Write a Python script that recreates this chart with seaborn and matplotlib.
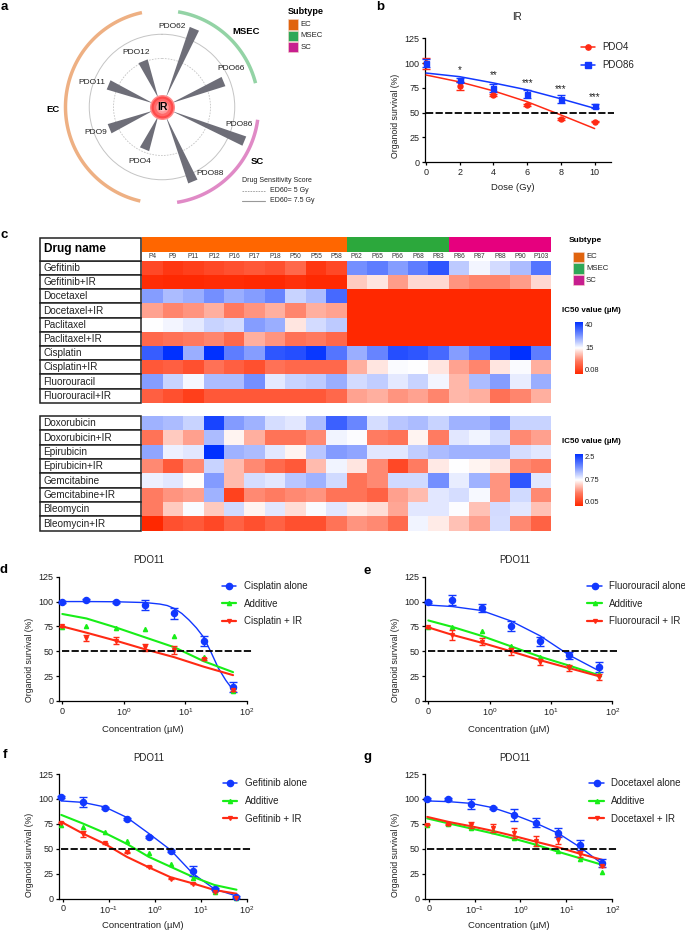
import numpy as np
import pandas as pd
import matplotlib
matplotlib.use("Agg")
import matplotlib.pyplot as plt
from matplotlib.colors import LinearSegmentedColormap, ListedColormap, TwoSlopeNorm
from matplotlib.lines import Line2D
from matplotlib.patches import Rectangle
import seaborn as sns

sns.set_theme(style="white")
plt.rcParams["font.family"] = ["Liberation Sans", "DejaVu Sans"]
plt.rcParams["mathtext.default"] = "regular"
plt.rcParams["mathtext.fontset"] = "custom"
plt.rcParams["mathtext.rm"] = "Liberation Sans"

W, H = 685, 932
fig = plt.figure(figsize=(W / 100, H / 100), dpi=100, facecolor="white")

BLUE, RED, GREEN = "#1238ff", "#ff2a14", "#18ee18"
INK = "#222222"

# ---------- panel a ----------
pdo_names = ["PDO62", "PDO66", "PDO86", "PDO88", "PDO4", "PDO9", "PDO11", "PDO12"]
pdo_angles = [22.5, 67.5, 112.5, 157.5, 202.5, 247.5, 292.5, 337.5]
pdo_ed60 = [8.74, 6.88, 9.2, 8.33, 4.74, 5.87, 5.98, 5.13]
subtype_names = ["EC", "MSEC", "SC"]
arc_spans = [(193, 348), (9.6, 75.7), (97.6, 171)]
arc_colors = ["#eeb083", "#93d3a5", "#e08ac6"]

# ---------- panel b ----------
dose = [0, 2, 4, 6, 8, 10]
pdo4_points = [100, 77.3, 67.5, 57.5, 44, 41]
pdo4_err = [5.5, 4, 1, 1, 1, 0.5]
pdo4_curve = [88, 81, 72, 61, 47.7, 34]
pdo86_points = [100, 83, 75, 69, 64, 57]
pdo86_err = [4, 2, 4, 4, 4, 2]
pdo86_curve = [90, 86.3, 80, 73, 64, 54.4]
star_labels = ["*", "**", "***", "***", "***"]
star_heights = [93, 87.5, 80, 74, 65.5]

# ---------- panel c ----------
patients = ["P4", "P9", "P11", "P12", "P16", "P17", "P18", "P50", "P55", "P58",
            "P62", "P65", "P66", "P68", "P83", "P86", "P87", "P88", "P90", "P103"]
patient_subtype = [0] * 10 + [1] * 5 + [2] * 5
top_drugs = ["Gefitinib", "Gefitinib+IR", "Docetaxel", "Docetaxel+IR", "Paclitaxel",
             "Paclitaxel+IR", "Cisplatin", "Cisplatin+IR", "Fluorouracil", "Fluorouracil+IR"]
low = [0.1] * 10
top_values = [
    [3, 1.5, 2.2, 3, 3.8, 4.5, 3.8, 6, 1.5, 3, 27.5, 30, 26, 30, 35, 21, 16, 19, 22.5, 31],
    [.5, .3, .3, .5, .5, .3, .3, 1, .2, .3, 12, 13.5, 9.5, 12.8, 12.8, 9, 8.2, 8.2, 9.5, 12.8],
    [26, 22.5, 24, 27.5, 24, 26, 29, 20, 22.5, 32.5] + low,
    [9.8, 8.2, 9, 10.5, 7.5, 9, 10.5, 8.2, 10.5, 9.8] + low,
    [15, 16, 17.5, 20, 19, 26, 24, 13.5, 19, 21] + low,
    [6, 6.8, 7.5, 8.2, 6, 10.5, 9, 6.8, 7.5, 6] + low,
    [34, 40, 24, 40, 30, 26, 35, 36, 39, 31, 24, 29, 36, 35, 32.5, 26, 30, 36, 40, 30],
    [4.5, 5.2, 3.8, 6.8, 5.2, 3.8, 6.8, 6, 6, 6, 10.5, 13.5, 15.5, 15, 13.5, 9.8, 8.2, 13.5, 15.5, 10.5],
    [26, 20, 15.8, 22.5, 22.5, 27.5, 17.5, 20, 21, 24, 19, 20.5, 17.5, 20, 16, 11, 22.5, 26, 17, 24],
    [5.2, 3.8, 2.2, 4.5, 4.5, 4.5, 4.5, 4.5, 4.5, 6, 9.8, 10.5, 9, 9.8, 8.2, 11, 10.5, 6.8, 8.2, 10.5],
]
low_drugs = ["Doxorubicin", "Doxorubicin+IR", "Epirubicin", "Epirubicin+IR", "Gemcitabine",
             "Gemcitabine+IR", "Bleomycin", "Bleomycin+IR"]
low_values = [
    [1.36, 1.28, 1.1, 2.32, 1.54, 1.36, 1.01, .93, 1.28, 2.06, 1.71, 1.01, 1.19, 1.28, 1.1, 1.36, 1.36, 1.54, 1.1, 1.1],
    [.37, .61, .5, 1.28, .72, .54, .37, .37, .44, .84, .77, .4, .37, .72, .4, .93, .84, 1.01, .44, .5],
    [1.45, .87, .93, 2.5, 1.36, 1.28, .93, .72, 1.19, 1.54, 1.45, .93, .93, 1.14, 1.28, 1.36, 1.36, 1.36, 1.01, .93],
    [.44, .26, .44, 1.1, .57, .44, .33, .26, .57, .84, .68, .44, .19, .4, .69, .75, .72, .68, .44, .4],
    [.87, .93, .74, 1.54, .57, 1.01, .93, 1.19, 1.36, 1.05, .37, .44, 1.05, 1.05, 1.63, .89, 1.36, .47, 2.15, .93],
    [.4, .47, .5, 1.36, .16, .44, .4, .44, .47, .37, .37, .3, .5, .57, .93, 1.01, .8, .47, 1.05, .44],
    [.4, .61, .78, .61, 1.05, .72, .93, .66, .78, .93, .7, .66, .52, .93, .93, .77, .59, 1.03, .93, .59],
    [.05, .22, .26, .19, .3, .22, .3, .22, .22, .37, .47, .44, .33, .84, .7, .59, .5, 1.01, .44, .3],
]

# ---------- panels d-g ----------
conc7 = [0.1, 0.247, 0.74, 2.22, 6.67, 20, 60]
conc9 = [0.0093, 0.027, 0.082, 0.247, 0.74, 2.22, 6.67, 20, 60]

d_alone = [100, 101.9, 99.5, 97, 88, 60.6, 14.4]
d_alone_err = [1, 1, 1, 5, 6, 5, 5]
d_alone_conc = [0.1, 0.247, 0.74, 2.22, 3.85, 5.1, 6.67, 8.8, 11.5, 15.2, 20, 26.3, 34.6, 45.5, 60]
d_alone_curve = [100, 100, 99.8, 99, 97.5, 96, 93, 88, 81.5, 73.5, 64, 49, 33, 21, 11]
d_add = [74, 75.5, 73.7, 72, 65, 44.6, 10]
d_add_curve = [87.5, 83, 74, 64, 54, 40, 29]
d_ir = [75, 63.7, 60.7, 54, 51, 42, 11]
d_ir_err = [0.5, 3, 3.5, 3.5, 4, 1, 1]
d_ir_curve = [75, 68.7, 60.7, 52, 44, 34.5, 26]

e_alone = [100, 101.5, 94, 75.5, 60, 46, 34.5]
e_alone_err = [1, 5, 4, 5, 4.5, 3.5, 5]
e_alone_curve = [96.5, 95, 91, 80.5, 65.5, 46, 30.5]
e_add = [74, 74.7, 70, 55.6, 44, 35.5, 27]
e_add_curve = [81, 74.5, 65.5, 55, 44.5, 35.5, 26]
e_ir = [74, 66.5, 59.6, 50, 39.6, 33, 24.5]
e_ir_err = [0.5, 5, 3.5, 3.5, 3, 3, 3]
e_ir_curve = [74, 66.5, 58.6, 50, 41, 33, 25]

f_alone = [102, 97.3, 91, 79.5, 62.2, 47.8, 28, 10, 1.5]
f_alone_err = [1, 5, 1, 1, 1, 1, 5, 1, 1]
f_alone_curve = [98, 96.6, 92, 81.5, 65.5, 48.8, 25.4, 9.7, 2.7]
f_add = [74, 71.5, 67, 58, 45.5, 35, 20.4, 6.4, 1]
f_add_curve = [84, 75.5, 66, 55, 42, 32, 22, 13.7, 9]
f_ir = [76, 64.5, 55.5, 46.8, 32, 20, 15, 7, 1]
f_ir_err = [0.5, 3, 0.5, 0.5, 0.5, 0.5, 0.5, 0.5, 0.5]
f_ir_curve = [77, 65.5, 55, 42, 31.5, 21.5, 15.4, 8.7, 5]

g_alone = [100, 100.3, 94.6, 91, 84, 76, 66, 54, 36]
g_alone_err = [1, 1, 5, 1, 6, 4.5, 4.5, 5, 4]
g_alone_curve = [98, 97.3, 95.6, 91.3, 84, 75.5, 65.5, 51.5, 35]
g_add = [74, 74.5, 70.5, 68, 60.5, 55, 48, 40, 26.5]
g_add_curve = [80.5, 75.5, 70.5, 65.5, 60, 54, 47, 40.5, 34]
g_ir = [74, 74.5, 74, 70.5, 66, 58, 58.6, 44.5, 33]
g_ir_err = [0.5, 0.5, 3, 4, 5, 5, 4, 3, 1]
g_ir_curve = [82, 77, 72.7, 68, 62.7, 57, 51.5, 45, 39]


# ---------- helpers ----------
def box(x0, y0, x1, y1, **kw):
    return fig.add_axes([x0 / W, 1 - y1 / H, (x1 - x0) / W, (y1 - y0) / H], **kw)


def txt(x, y, s, size=6, ha="center", va="center", weight="normal", color=INK):
    return fig.text(x / W, 1 - y / H, s, fontsize=size, ha=ha, va=va, fontweight=weight, color=color)


def style_axes(ax, ymax=125):
    sns.despine(ax=ax)
    for s in ("left", "bottom"):
        ax.spines[s].set_linewidth(0.9)
        ax.spines[s].set_color("black")
    ax.set_ylim(0, ymax)
    ax.set_yticks([0, 25, 50, 75, 100, 125])
    ax.tick_params(axis="both", which="major", length=2.5, width=0.9, labelsize=6.5,
                   pad=1.5, colors=INK, color="black", left=True, bottom=True)
    ax.tick_params(axis="both", which="minor", length=0)
    ax.grid(False)
    ax.patch.set_alpha(0)


def axis_labels(ax, xlab, ylab, xc, yc_x, yc_y, xy):
    ax.set_xlabel(xlab, fontsize=6.8, color=INK, va="center")
    ax.set_ylabel(ylab, fontsize=6.3, color=INK, va="center")
    ax.xaxis.set_label_coords(xc / W, 1 - xy / H, transform=fig.transFigure)
    ax.yaxis.set_label_coords(yc_x / W, 1 - yc_y / H, transform=fig.transFigure)


def legend_at(ax, handles, x, y):
    ax.legend(handles=handles, loc="upper left", bbox_to_anchor=(x / W, 1 - y / H),
              bbox_transform=fig.transFigure, frameon=False, fontsize=7, borderpad=0,
              borderaxespad=0, labelspacing=0.78, handlelength=1.5, handletextpad=0.75,
              labelcolor=INK)


def series(ax, px, py, err, cx, cy, color, marker, ms, lw, capsize=2.7):
    sns.lineplot(x=cx, y=cy, ax=ax, color=color, lw=lw, errorbar=None, legend=False, zorder=3)
    if err is None:
        ax.plot(px, py, ls="none", marker=marker, ms=ms, color=color, mec=color, clip_on=False, zorder=4)
    else:
        ax.errorbar(px, py, yerr=err, fmt=marker, ms=ms, color=color, mec=color, ecolor=color,
                    elinewidth=1, capsize=capsize, capthick=1, clip_on=False, zorder=4)


def handles_for(a, b, c):
    return [Line2D([], [], color=BLUE, lw=1.1, marker="o", ms=4.5, label=a),
            Line2D([], [], color=GREEN, lw=1.6, marker="^", ms=3, label=b),
            Line2D([], [], color=RED, lw=1.6, marker="v", ms=2.8, label=c)]


# ---------- panel a drawing ----------
px_per_gy = 9.7
half = 100
cx0, cy0 = 162, 107
pol = box(cx0 - half, cy0 - half, cx0 + half, cy0 + half, projection="polar")
pol.set_theta_zero_location("N")
pol.set_theta_direction(-1)
pol.set_ylim(0, half / px_per_gy)
pol.set_xticks([])
pol.set_yticks([5, 7.5])
pol.set_yticklabels([])
pol.grid(True)
grid_lines = pol.yaxis.get_gridlines()
grid_lines[0].set(color="#c4c4c4", lw=0.6, ls=(0, (2, 1.5)))
grid_lines[1].set(color="#c4c4c4", lw=0.7, ls="-")
pol.spines["polar"].set_visible(False)
pol.patch.set_alpha(0)
for ang, val in zip(pdo_angles, pdo_ed60):
    half_width = 5.0 / (val * px_per_gy)
    t = np.radians(ang)
    pol.fill([t, t - half_width, t + half_width], [1.0, val, val], color="#6e6e78", lw=0, zorder=3)
for span, col in zip(arc_spans, arc_colors):
    th = np.radians(np.linspace(span[0], span[1], 120))
    pol.plot(th, np.full_like(th, 9.95), color=col, lw=2.5, solid_capstyle="butt", zorder=2)
for frac, col in zip([1.0, 0.88, 0.7, 0.5, 0.3],
                     ["#ff8a8a", "#ff4a4a", "#ff6a6a", "#ff9a9a", "#ffc4c4"]):
    pol.scatter([0], [0], s=324 * frac ** 2, color=col, lw=0, zorder=6 - frac)
txt(cx0, cy0, "IR", 7.5, weight="bold", color="black")

for name, (x, y) in zip(pdo_names, [(172.3, 26), (230.7, 69), (239.3, 124), (210.3, 173.3),
                                    (139.3, 161.3), (96, 132.7), (92, 82.3), (135.7, 52.3)]):
    txt(x, y, name, 6)
for name, (x, y) in zip(subtype_names, [(53, 109.3), (246.3, 31.7), (257, 161.3)]):
    txt(x, y, name, 6.8, weight="bold", color="black")

swatch_colors = ["#e0640f", "#2ea858", "#c71e8f"]


def subtype_legend(x_title, y_title, x_sw, y_sw, step, size, title_size):
    txt(x_title, y_title, "Subtype", title_size, ha="left", weight="bold", color="black")
    for i, (n, c) in enumerate(zip(subtype_names, swatch_colors)):
        fig.add_artist(Rectangle((x_sw / W, 1 - (y_sw + step * i + size) / H), size / W, size / H,
                                 transform=fig.transFigure, facecolor=c, edgecolor="#f4d6c8", lw=0.4))
        txt(x_sw + size + 2.2, y_sw + step * i + size / 2, n, 5.6, ha="left")


subtype_legend(288, 11.7, 288, 19.3, 11.4, 10.2, 6.6)
txt(242, 180.7, "Drug Sensitivity Score", 5, ha="left")
fig.add_artist(Line2D([242 / W, 265 / W], [1 - 191 / H] * 2, color="#999999", lw=0.6, ls=(0, (2, 1.2))))
fig.add_artist(Line2D([242 / W, 265 / W], [1 - 201 / H] * 2, color="#999999", lw=0.8))
txt(270, 191, "ED60= 5 Gy", 5, ha="left")
txt(270, 201, "ED60= 7.5 Gy", 5, ha="left")

# ---------- panel b drawing ----------
axb = box(425, 38.3, 611, 162.3)
style_axes(axb)
axb.set_xlim(-0.06, 10.97)
axb.set_xticks(dose)
series(axb, dose, pdo4_points, pdo4_err, dose, pdo4_curve, RED, "o", 3.6, 1.1)
series(axb, dose, pdo86_points, pdo86_err, dose, pdo86_curve, BLUE, "s", 3.6, 1.1)
axb.plot([0, 11.15], [50, 50], color="black", lw=1.3, dashes=(4, 1.3), clip_on=False, zorder=5)
for x, y, s in zip(dose[1:], star_heights, star_labels):
    axb.text(x, y, s, ha="center", va="center", fontsize=7, color=INK)
axis_labels(axb, "Dose (Gy)", "Organoid survival (%)", 512.7, 395, 116, 187)
axb.text(516.7 / W, 1 - 16.7 / H, "IR", transform=fig.transFigure, ha="center", va="center", fontsize=7, color=INK)
legend_at(axb, [Line2D([], [], color=RED, lw=1.1, marker="o", ms=3.8, label="PDO4"),
                Line2D([], [], color=BLUE, lw=1.1, marker="s", ms=3.8, label="PDO86")], 580.7, 42.5)

# ---------- panel c drawing ----------
cmap_heat = LinearSegmentedColormap.from_list(
    "ic50", [(0, "#ff2800"), (0.25, "#ff7a60"), (0.5, "#ffffff"), (0.75, "#7590ff"), (1, "#0030ff")])
norm_top = TwoSlopeNorm(vmin=0.08, vcenter=15, vmax=40)
norm_low = TwoSlopeNorm(vmin=0.05, vcenter=0.75, vmax=2.5)
xl, xr = 142.3, 551

bar = box(xl, 237.3, xr, 251.7)
sns.heatmap(pd.DataFrame([patient_subtype], columns=patients), ax=bar,
            cmap=ListedColormap(["#ff6600", "#2ca83c", "#e6007e"]), vmin=0, vmax=2,
            cbar=False, xticklabels=False, yticklabels=False)
bar.set_xlabel("")
bar.set_ylabel("")

hm1 = box(xl, 260.7, xr, 402.7)
sns.heatmap(pd.DataFrame(top_values, index=top_drugs, columns=patients), ax=hm1, cmap=cmap_heat,
            norm=norm_top, cbar=False, yticklabels=False, xticklabels=True)
hm1.xaxis.tick_top()
hm1.tick_params(axis="x", length=0, labelsize=4.8, pad=0.8, rotation=0, colors="#333333")

hm2 = box(xl, 416, xr, 530.7)
sns.heatmap(pd.DataFrame(low_values, index=low_drugs, columns=patients), ax=hm2, cmap=cmap_heat,
            norm=norm_low, cbar=False, yticklabels=False, xticklabels=False)


def drug_table(y0, y1, names, header=False):
    t = box(40, y0, 141, y1)
    t.set_xlim(0, 1)
    t.set_ylim(len(names), 0)
    t.axis("off")
    for i, n in enumerate(names):
        t.add_patch(Rectangle((0, i), 1, 1, fc="white", ec="#222222", lw=1.1, clip_on=False))
        t.text(0.035, i + 0.52, n, fontsize=7.2, va="center", color=INK)
    if header:
        t.add_patch(Rectangle((0, -1.6), 1, 1.6, fc="white", ec="#222222", lw=1.1, clip_on=False))
        t.text(0.035, -0.8, "Drug name", fontsize=8.6, va="center", weight="bold", color="black", clip_on=False)


drug_table(260.7, 402.7, top_drugs, True)
drug_table(416, 530.7, low_drugs)

subtype_legend(569, 241, 573.3, 251.7, 11.6, 10.5, 6.0)


def colorbar(norm, y0, y1, ticks, labels, title_y):
    cax = box(574.7, y0, 583, y1)
    cb = fig.colorbar(plt.cm.ScalarMappable(norm=norm, cmap=cmap_heat), cax=cax)
    cb.set_ticks(ticks)
    cb.set_ticklabels(labels)
    cb.minorticks_off()
    cb.ax.tick_params(length=0, labelsize=5.4, pad=1.5, colors=INK)
    cb.outline.set_visible(False)
    tick_texts = cb.ax.get_yticklabels()
    tick_texts[0].set_va("bottom")
    tick_texts[-1].set_va("top")
    txt(562, title_y, "IC50 value (µM)", 5.8, ha="left", weight="bold", color="black")


colorbar(norm_top, 322, 374, [0.08, 15, 40], ["0.08", "15", "40"], 310)
colorbar(norm_low, 454, 506, [0.05, 0.75, 2.5], ["0.05", "0.75", "2.5"], 442)


# ---------- panels d-g drawing ----------
def dose_panel(bx, xlim, xticks, xticklabels, dash_x, conc, alone, alone_err, alone_conc, alone_curve,
               add, add_curve, ir, ir_err, ir_curve, names, title_xy, xlab_xy, ylab_xy, leg_xy):
    ax = box(*bx)
    ax.set_xscale("log")
    style_axes(ax)
    ax.set_xlim(*xlim)
    ax.set_xticks(xticks)
    ax.set_xticklabels(xticklabels)
    ax.xaxis.set_minor_locator(matplotlib.ticker.NullLocator())
    series(ax, conc, alone, alone_err, alone_conc, alone_curve, BLUE, "o", 4.4, 1.0)
    series(ax, conc, add, None, conc, add_curve, GREEN, "^", 3, 1.5)
    series(ax, conc, ir, ir_err, conc, ir_curve, RED, "v", 2.8, 1.5, capsize=2.2)
    ax.plot(dash_x, [50, 50], color="black", lw=1.3, dashes=(4, 1.3), clip_on=False, zorder=5)
    axis_labels(ax, "Concentration (µM)", "Organoid survival (%)", xlab_xy[0], ylab_xy[0], ylab_xy[1], xlab_xy[1])
    ax.text(title_xy[0] / W, 1 - title_xy[1] / H, "PDO11", transform=fig.transFigure,
            ha="center", va="center", fontsize=7, color=INK)
    legend_at(ax, handles_for(*names), *leg_xy)
    return ax


ticks7 = [0.1, 1, 10, 100]
labels7 = ["0", "$10^{0}$", "$10^{1}$", "$10^{2}$"]
ticks9 = [0.01, 0.1, 1, 10, 100]
labels9 = ["0", "$10^{-1}$", "$10^{0}$", "$10^{1}$", "$10^{2}$"]

dose_panel((59, 576.7, 246.7, 701), (10 ** -1.054, 100), ticks7, labels7, [0.1, 120], conc7,
           d_alone, d_alone_err, d_alone_conc, d_alone_curve, d_add, d_add_curve, d_ir, d_ir_err, d_ir_curve,
           ("Cisplatin alone", "Additive", "Cisplatin + IR"), (148.7, 560), (142.7, 729), (29, 660), (221.7, 581))
dose_panel((425, 576.7, 612.3, 701), (10 ** -1.054, 100), ticks7, labels7, [0.1, 120], conc7,
           e_alone, e_alone_err, conc7, e_alone_curve, e_add, e_add_curve, e_ir, e_ir_err, e_ir_curve,
           ("Fluorouracil alone", "Additive", "Fluorouracil + IR"), (514.7, 560), (508.7, 729), (395, 660), (587.3, 581))
dose_panel((59, 774, 246.7, 898.7), (10 ** -2.08, 100), ticks9, labels9, [0.0093, 128], conc9,
           f_alone, f_alone_err, conc9, f_alone_curve, f_add, f_add_curve, f_ir, f_ir_err, f_ir_curve,
           ("Gefitinib alone", "Additive", "Gefitinib + IR"), (148.7, 757.7), (142.7, 925), (29, 855), (222.7, 778.5))
dose_panel((425, 774, 612.3, 898.7), (10 ** -2.08, 100), ticks9, labels9, [0.0093, 128], conc9,
           g_alone, g_alone_err, conc9, g_alone_curve, g_add, g_add_curve, g_ir, g_ir_err, g_ir_curve,
           ("Docetaxel alone", "Additive", "Docetaxel + IR"), (514.7, 757.7), (508.7, 925), (395, 855), (589.3, 778.5))

# ---------- panel letters ----------
for s, x, y in [("a", 4, 7), ("b", 380, 7), ("c", 4, 235), ("d", 4, 570),
                ("e", 367, 571), ("f", 5, 755), ("g", 367, 757)]:
    txt(x, y, s, 9.5, weight="bold", color="black")

fig.savefig("out.png", dpi=100, facecolor="white")
